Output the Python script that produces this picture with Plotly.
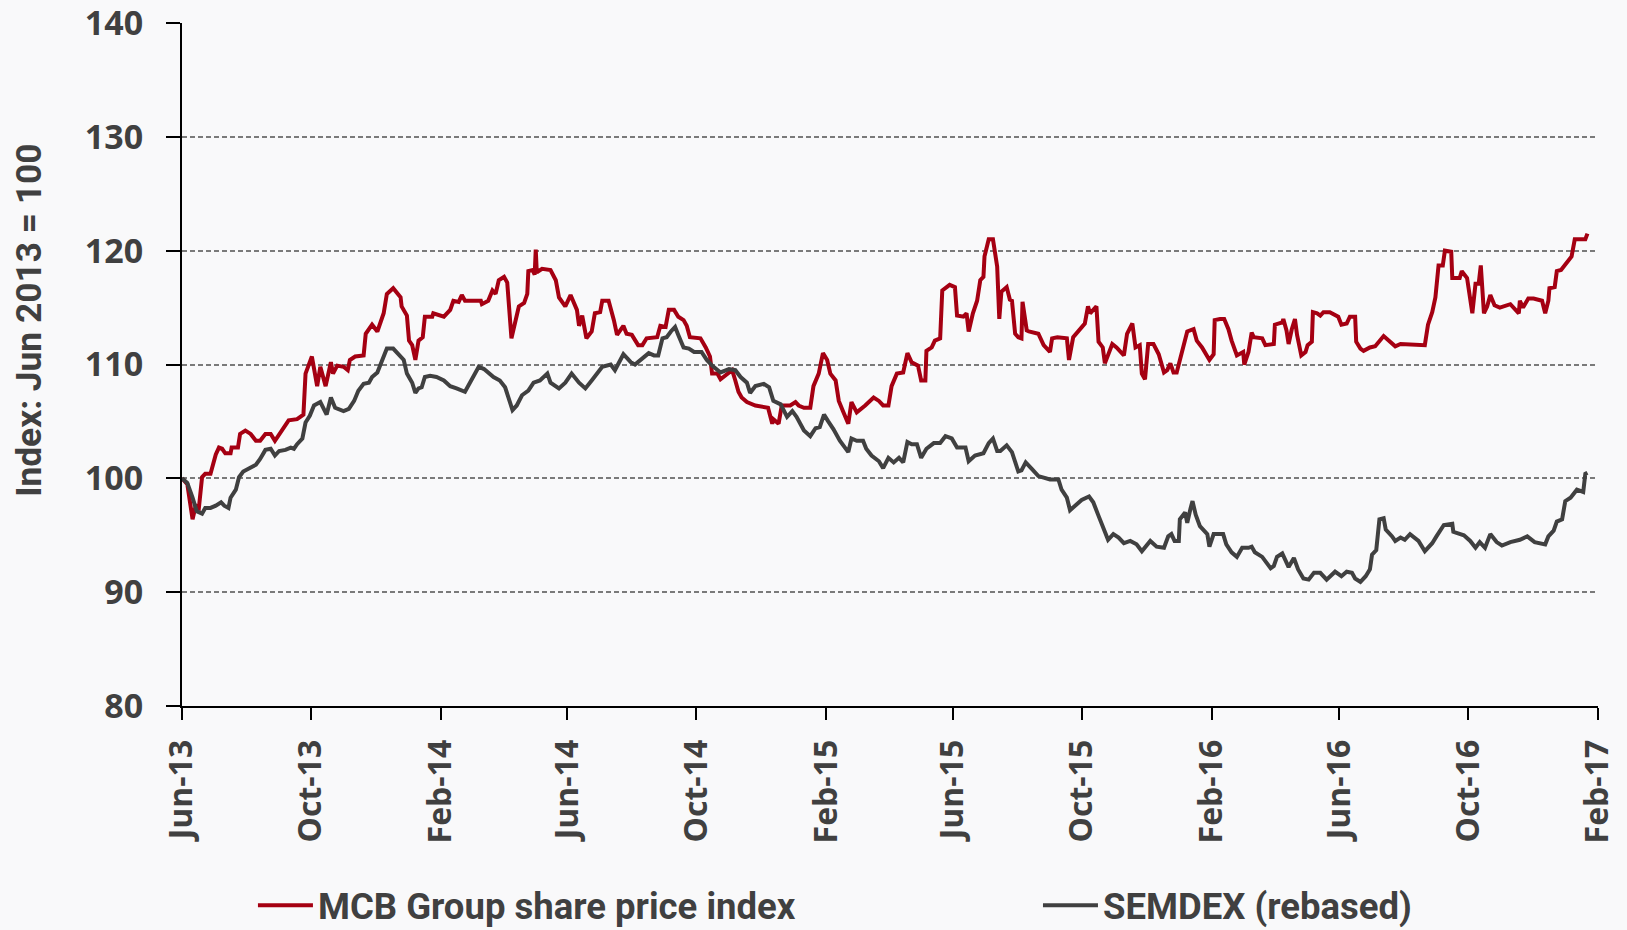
import pandas as pd
import plotly.graph_objects as go

# ---- data ----
start_date = "2013-06-01"

mcb_days = [
    0, 5, 10, 13, 16, 17, 19, 22, 27, 32,
    35, 38, 41, 46, 47, 53, 55, 60, 65, 70,
    74, 79, 84, 88, 95, 101, 109, 115, 117, 123,
    128, 131, 136, 141, 143, 147, 153, 157, 159, 164,
    172, 174, 180, 185, 191, 194, 200, 207, 208, 213,
    215, 218, 221, 224, 228, 230, 237, 238, 248, 254,
    257, 262, 265, 268, 283, 284, 290, 294, 297, 300,
    305, 308, 312, 316, 319, 324, 327, 328, 332, 334,
    335, 336, 341, 349,
    354, 357, 363, 368, 371, 374, 376, 379, 383, 388,
    391, 396, 398, 404, 409, 412, 418, 421, 426, 432,
    436, 440, 450, 453, 458, 461, 466, 470, 475, 478,
    481, 491, 496, 500, 502, 507, 510, 516, 521, 524,
    527, 530, 535, 543, 555, 559, 560, 565, 568, 576,
    581, 584, 589, 595, 598, 603, 607, 611, 614, 619,
    622, 626, 631, 634, 639, 647, 655, 660, 664, 669,
    672, 677, 683, 687, 691, 697, 700, 704, 705, 710,
    713, 718, 720, 727, 732, 734, 740, 743, 745, 749,
    753, 756, 759, 760, 764, 768, 772, 774,
    776, 781, 784, 786, 789, 792, 795, 796, 800, 802,
    811, 816, 822, 824, 829, 838, 840, 844, 851, 855,
    858, 860, 866, 868, 872, 874, 881, 885, 892, 895,
    900, 903, 907, 909, 912, 915, 920, 925, 930, 933,
    936, 939, 942, 947, 952, 958, 961, 966, 971, 973,
    977, 978, 983, 987, 991, 994, 999, 1005, 1006, 1010,
    1013, 1015, 1023, 1026, 1034, 1035, 1042, 1043, 1046, 1048,
    1051, 1054, 1056, 1060, 1064, 1066, 1070, 1071, 1075, 1078,
    1081, 1087, 1095, 1098, 1103, 1106, 1111, 1112, 1116, 1119,
    1125, 1130, 1138, 1144, 1149, 1154,
    1177, 1180, 1184, 1187, 1190, 1194, 1196, 1202, 1203, 1210,
    1212, 1217, 1222, 1225, 1228, 1230, 1233, 1236, 1239, 1243,
    1248, 1258, 1262, 1266, 1267, 1270, 1275, 1280, 1288, 1291,
    1294, 1295, 1300, 1302, 1306, 1311, 1316, 1319, 1329, 1331,
]
mcb_values = [
    100.0, 99.5, 96.4, 97.6, 97.4, 98.4, 100.1, 100.4, 100.4, 102.1,
    102.7, 102.6, 102.2, 102.2, 102.7, 102.7, 103.9, 104.2, 103.9, 103.3,
    103.3, 103.9, 103.9, 103.3, 104.3, 105.1, 105.2, 105.6, 109.2, 110.7,
    108.1, 109.8, 108.1, 110.2, 109.2, 109.9, 109.8, 109.5, 110.4, 110.7,
    110.8, 112.7, 113.5, 112.9, 114.5, 116.2, 116.7, 115.9, 115.1, 114.3,
    112.1, 111.7, 110.4, 112.1, 112.4, 114.2, 114.2, 114.5, 114.2, 114.8,
    115.6, 115.5, 116.1, 115.6, 115.6, 115.3, 115.6, 116.5, 116.2, 117.4,
    117.7, 117.2, 112.3, 113.9, 115.1, 115.4, 116.2, 118.2, 118.3, 117.9,
    120.1, 118.1, 118.4, 118.3,
    117.4, 115.9, 115.1, 116.1, 115.4, 114.8, 113.4, 114.3, 112.3, 112.9,
    114.5, 114.6, 115.6, 115.6, 113.9, 112.6, 113.4, 112.7, 112.6, 111.7,
    111.7, 112.3, 112.4, 113.4, 113.3, 114.8, 114.8, 114.2, 113.9, 113.4,
    112.4, 112.3, 111.5, 110.7, 109.2, 109.2, 108.7, 109.2, 109.5, 108.6,
    107.6, 107.1, 106.7, 106.4, 106.2, 104.8, 105.2, 104.8, 106.4, 106.4,
    106.7, 106.4, 106.2, 106.2, 108.1, 109.2, 111.0, 110.4, 109.2, 108.6,
    106.8, 105.9, 104.8, 106.7, 105.8, 106.4, 107.1, 106.8, 106.4, 106.4,
    108.1, 109.2, 109.3, 111.0, 110.2, 109.9, 108.6, 108.6, 111.2, 111.5,
    112.1, 112.3, 116.5, 117.0, 116.8, 114.3, 114.2, 114.5, 112.9, 114.5,
    115.6, 117.4, 117.7, 119.5, 121.0, 121.0, 118.6, 114.0,
    116.4, 116.8, 115.7, 115.6, 112.7, 112.4, 112.3, 115.5, 113.0, 112.9,
    112.7, 111.7, 111.1, 112.3, 112.4, 112.3, 110.4, 112.4, 113.1, 113.6,
    115.1, 114.5, 115.1, 112.0, 111.5, 110.1, 111.8, 111.5, 110.8, 112.7,
    113.6, 111.5, 111.7, 109.2, 108.7, 111.8, 111.8, 110.9, 109.3, 109.5,
    110.1, 109.3, 109.3, 111.2, 112.9, 113.1, 112.1, 111.5, 110.8, 110.4,
    110.9, 113.9, 114.0, 114.0, 113.1, 112.1, 110.8, 111.1, 110.0, 111.1,
    112.8, 112.4, 112.3, 111.7, 111.8, 113.5, 113.7, 114.0, 113.0, 111.8,
    113.1, 114.0, 112.6, 110.8, 111.1, 111.7, 112.0, 114.6, 114.5, 114.3,
    114.6, 114.6, 114.2, 113.5, 113.6, 114.2, 114.2, 112.0, 111.4, 111.2,
    111.5, 111.6, 112.5, 112.0, 111.6, 111.8,
    111.7, 113.5, 114.6, 115.9, 118.7, 118.7, 120.0, 119.9, 117.6, 117.6,
    118.2, 117.6, 114.5, 117.1, 117.1, 118.7, 114.5, 115.1, 116.1, 115.2,
    115.0, 115.3, 114.9, 114.5, 115.6, 115.0, 115.8, 115.8, 115.6, 114.5,
    115.6, 116.7, 116.8, 118.2, 118.3, 118.9, 119.5, 121.0, 121.0, 121.5,
]

semdex_days = [
    0, 5, 10, 14, 19, 22, 27, 32, 37, 40,
    44, 46, 51, 54, 58, 65, 70, 74, 79, 84,
    88, 92, 98, 103, 106, 109, 114, 117, 121, 125,
    131, 137, 141, 145, 153, 158, 163, 167, 172, 177,
    180, 185, 191, 194, 200, 205, 210, 213, 218, 221,
    224, 227, 230, 235, 241, 248, 254, 260, 268, 281,
    286, 295, 301, 306, 313, 317, 322, 328, 333, 339,
    346, 349,
    357, 363, 369, 376, 382, 388, 398, 406, 410, 418,
    425, 429, 436, 442, 447, 451, 455, 459, 463, 467,
    470, 475, 480, 485, 492, 497, 502, 510, 518, 524,
    529, 535, 538, 543, 551, 556, 560, 567, 573, 578,
    582, 589, 595, 600, 604, 608, 612, 617, 623, 631,
    634, 639, 645, 648, 653, 660, 664, 669, 674, 679,
    683, 687, 691, 696, 700, 705, 712, 718, 723, 729,
    734, 742, 745, 751, 759, 764, 768, 772,
    775, 781, 786, 792, 795, 799, 805, 811, 822, 830,
    833, 838, 841, 846, 852, 859, 863, 868, 873, 877,
    882, 887, 892, 898, 904, 909, 917, 923, 930, 934,
    937, 940, 944, 945, 950, 952, 955, 957, 960, 964,
    971, 973, 977, 986, 989, 994, 999, 1004, 1010, 1013,
    1016, 1023, 1027, 1031, 1034, 1037, 1042, 1045, 1048, 1053,
    1057, 1062, 1067, 1072, 1078, 1084, 1092, 1098, 1103, 1108,
    1111, 1116, 1121, 1125, 1127, 1131, 1134, 1138, 1140, 1146,
    1149, 1154,
    1158, 1163, 1171, 1177, 1184, 1188, 1192, 1195, 1203, 1204,
    1214, 1220, 1225, 1229, 1234, 1239, 1245, 1250, 1258, 1267,
    1274, 1281, 1291, 1294, 1299, 1302, 1307, 1310, 1315, 1321,
    1327, 1329, 1331,
]
semdex_values = [
    100.0, 99.6, 98.3, 97.1, 96.9, 97.4, 97.4, 97.6, 97.9, 97.6,
    97.4, 98.3, 99.0, 100.1, 100.6, 100.9, 101.2, 101.7, 102.5, 102.6,
    102.0, 102.4, 102.5, 102.7, 102.6, 103.0, 103.5, 104.9, 105.5, 106.4,
    106.7, 105.6, 107.1, 106.2, 105.9, 106.1, 106.8, 107.7, 108.3, 108.4,
    108.9, 109.3, 110.6, 111.4, 111.4, 110.9, 110.4, 109.2, 108.4, 107.5,
    107.9, 108.0, 108.9, 109.0, 108.9, 108.6, 108.1, 107.9, 107.6, 109.8,
    109.6, 108.9, 108.6, 108.0, 106.0, 106.4, 107.3, 107.7, 108.4, 108.6,
    109.2, 108.4,
    107.9, 108.4, 109.2, 108.4, 107.9, 108.6, 109.8, 110.0, 109.5, 110.9,
    110.2, 110.0, 110.5, 111.0, 110.8, 110.8, 112.3, 112.4, 112.9, 113.3,
    112.6, 111.5, 111.4, 111.1, 111.1, 110.4, 109.9, 109.3, 109.6, 109.5,
    108.9, 108.4, 107.5, 108.1, 108.3, 108.0, 106.8, 106.5, 105.4, 105.9,
    105.4, 104.2, 103.7, 104.4, 104.5, 105.6, 105.0, 104.3, 103.3, 102.3,
    103.5, 103.3, 103.3, 102.6, 102.0, 101.5, 100.9, 101.8, 101.4, 101.8,
    101.4, 103.2, 103.0, 103.0, 101.8, 102.6, 103.1, 103.1, 103.7, 103.5,
    102.7, 102.7, 101.5, 102.0, 102.2, 103.1, 103.5, 102.4,
    102.4, 102.9, 102.3, 100.6, 100.7, 101.4, 100.8, 100.2, 99.9, 99.9,
    99.0, 98.3, 97.2, 97.6, 98.1, 98.4, 97.9, 96.7, 95.5, 94.6,
    95.1, 94.8, 94.3, 94.5, 94.2, 93.6, 94.5, 94.0, 93.9, 94.9,
    95.1, 94.5, 94.5, 96.4, 97.0, 96.1, 97.3, 98.0, 96.8, 95.8,
    95.1, 94.0, 95.1, 95.1, 94.2, 93.5, 93.1, 93.9, 93.9, 94.0,
    93.5, 93.1, 92.6, 92.1, 92.3, 93.1, 93.4, 92.8, 92.2, 93.0,
    92.0, 91.2, 91.1, 91.7, 91.7, 91.1, 91.8, 91.4, 91.8, 91.7,
    91.2, 90.9, 91.4, 92.0, 93.3, 93.7, 96.4, 96.5, 95.5, 94.9,
    94.5, 94.8,
    94.6, 95.1, 94.5, 93.6, 94.3, 94.9, 95.5, 95.9, 96.0, 95.3,
    95.0, 94.5, 93.9, 94.4, 93.9, 95.1, 94.4, 94.1, 94.4, 94.6,
    94.9, 94.4, 94.2, 94.9, 95.4, 96.2, 96.4, 98.0, 98.3, 99.0,
    98.8, 100.4, 100.5,
]

tick_dates = ["2013-06-01", "2013-10-01", "2014-02-01", "2014-06-01",
              "2014-10-01", "2015-02-01", "2015-06-01", "2015-10-01",
              "2016-02-01", "2016-06-01", "2016-10-01", "2017-02-01"]
tick_labels = ["Jun-13", "Oct-13", "Feb-14", "Jun-14", "Oct-14", "Feb-15",
               "Jun-15", "Oct-15", "Feb-16", "Jun-16", "Oct-16", "Feb-17"]
y_ticks = [80, 90, 100, 110, 120, 130, 140]

series_names = ["MCB Group share price index", "SEMDEX (rebased)"]

# ---- build ----
t0 = pd.Timestamp(start_date)
mcb_dates = t0 + pd.to_timedelta(mcb_days, unit="D")
semdex_dates = t0 + pd.to_timedelta(semdex_days, unit="D")

RED = "#A50012"
GREY = "#404040"
TXT = "#404040"
narrow = "Roboto, sans-serif"
legend_font = dict(family=narrow, size=36.5, color=TXT, weight="bold")

fig = go.Figure()
fig.add_trace(go.Scatter(x=mcb_dates, y=mcb_values, mode="lines",
                         name=series_names[0], legend="legend",
                         line=dict(color=RED, width=4)))
fig.add_trace(go.Scatter(x=semdex_dates, y=semdex_values, mode="lines",
                         name=series_names[1], legend="legend2",
                         line=dict(color=GREY, width=4)))

common_legend = dict(orientation="h", y=-0.292, xanchor="left", yanchor="middle",
                     itemwidth=55, font=legend_font, bgcolor="rgba(0,0,0,0)")

fig.update_layout(
    width=1627, height=930,
    margin=dict(l=182, r=29, t=23, b=224, autoexpand=False),
    paper_bgcolor="#f9f9fa",
    plot_bgcolor="rgba(0,0,0,0)",
    showlegend=True,
    legend=dict(x=0.0501, **common_legend),
    legend2=dict(x=0.6045, **common_legend),
    annotations=[dict(text="Index: Jun 2013 = 100", xref="paper", yref="paper",
                      x=-0.108, y=0.564, xanchor="center", yanchor="middle",
                      textangle=-90, showarrow=False,
                      font=dict(family=narrow, size=35.3, color=TXT, weight="bold"))],
)

fig.update_xaxes(
    type="date", range=["2013-06-01", "2017-02-01"],
    tickvals=tick_dates, ticktext=tick_labels, tickangle=-90,
    ticks="outside", ticklen=12, tickwidth=2, tickcolor="black",
    showline=True, linecolor="black", linewidth=2,
    showgrid=False, zeroline=False, automargin=False,
    ticklabelstandoff=7, ticklabeloverflow="allow",
    tickfont=dict(family="Open Sans", size=32, color=TXT, weight="bold"),
)
fig.update_yaxes(
    range=[80, 140], tickvals=y_ticks,
    ticks="outside", ticklen=14, tickwidth=2, tickcolor="black",
    showline=True, linecolor="black", linewidth=2,
    showgrid=True, gridcolor="#7a7a7a", gridwidth=1.5, griddash="5px,3px",
    zeroline=False, automargin=False,
    ticklabelstandoff=16, ticklabeloverflow="allow",
    tickfont=dict(family="Open Sans", size=34, color=TXT, weight="bold"),
)

# let the figure fill the page from its top-left corner
fig.write_html("out.html",
               config={"displayModeBar": False},
               post_script="document.body.style.margin='0';"
                           "document.body.style.overflow='hidden';")
